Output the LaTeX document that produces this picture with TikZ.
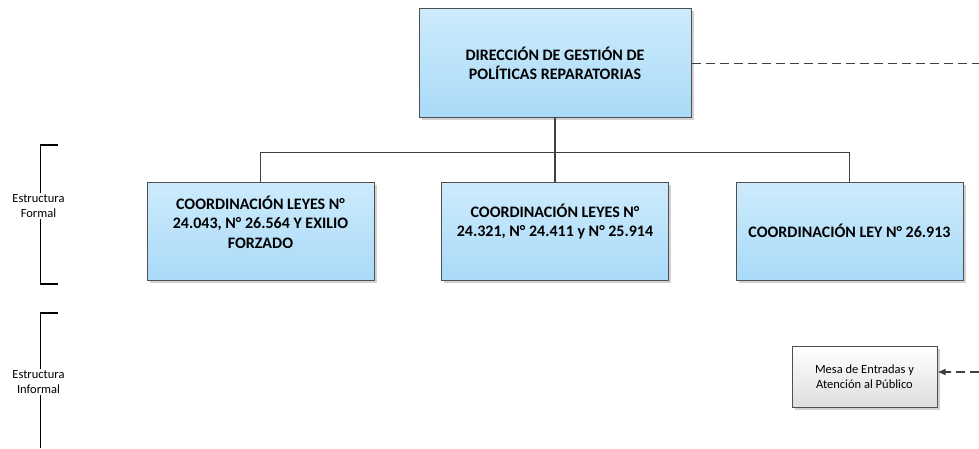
\documentclass[tikz,border=0pt]{standalone}
\usepackage{fontspec}
\setmainfont{Carlito}
\usetikzlibrary{shadows,arrows.meta}
\definecolor{boxtop}{HTML}{CDEBFC}
\definecolor{boxbot}{HTML}{A9DAF8}
\definecolor{boxline}{HTML}{4F4F4F}
\definecolor{linegray}{HTML}{404040}
\begin{document}
\begin{tikzpicture}[x=1pt,y=1pt,
  unit/.style={draw=boxline,line width=1pt,top color=boxtop,bottom color=boxbot,
    drop shadow={shadow xshift=2.5pt,shadow yshift=-2.5pt,fill=black!30,opacity=.6},
    align=center,inner sep=2pt,font=\bfseries\fontsize{16}{19.5}\selectfont},
  dirbox/.style={unit,minimum width=272,minimum height=109},
  coordbox/.style={unit,minimum width=227,minimum height=98},
  aux/.style={draw=boxline,line width=1pt,top color=white,bottom color=black!13,
    drop shadow={shadow xshift=2.5pt,shadow yshift=-2.5pt,fill=black!30,opacity=.6},
    minimum width=145,minimum height=61,align=center,font=\fontsize{12.5}{15}\selectfont},
  side/.style={align=center,inner sep=1pt,font=\fontsize{12.5}{15}\selectfont},
  dashline/.style={draw=linegray,line width=1.2pt,dash pattern=on 9pt off 5pt},
  level/.style={level distance=167.5pt,sibling distance=294.5pt},
  edge from parent/.style={draw=linegray,line width=1.2pt},
  edge from parent path={(\tikzparentnode.south) -- ++(0,-34) -| (\tikzchildnode.north)}]
\useasboundingbox (0,0) rectangle (979,448);

\node [dirbox] (dir) at (555,384.5) {DIRECCIÓN DE GESTIÓN DE\\POLÍTICAS REPARATORIAS}
  child {node [coordbox,text depth=18pt] (c1) {COORDINACIÓN LEYES N°\\24.043, N° 26.564 Y EXILIO\\FORZADO}}
  child {node [coordbox,text depth=21pt] (c2) {COORDINACIÓN LEYES N°\\24.321, N° 24.411 y N° 25.914}}
  child {node [coordbox] (c3) {COORDINACIÓN LEY N° 26.913}};

\node [aux] (mesa) at (864.5,71.5) {Mesa de Entradas y\\Atención al Público};

% lines leaving the page on the right
\coordinate (out) at (979,384.5);
\coordinate (in) at (979,76);
\draw [dashline] (dir.east) -- (out);
\draw [dashline,-{Latex[length=8pt,width=7pt]}] (in) -- (in -| mesa.east);

% brackets
\node [side] (formal) at (38.5,242) {Estructura\\Formal};
\node [side] (informal) at (38.5,66) {Estructura\\Informal};
\draw [line width=1.3pt] (58,303) -- (40.7,303) -- (40.7,0 |- formal.north);
\draw [line width=1.3pt] (40.7,0 |- formal.south) -- (40.7,164) -- (58,164);
\draw [line width=1.3pt] (58,135) -- (40.7,135) -- (40.7,0 |- informal.north);
\draw [line width=1.3pt] (40.7,0 |- informal.south) -- (40.7,0);
\end{tikzpicture}
\end{document}
